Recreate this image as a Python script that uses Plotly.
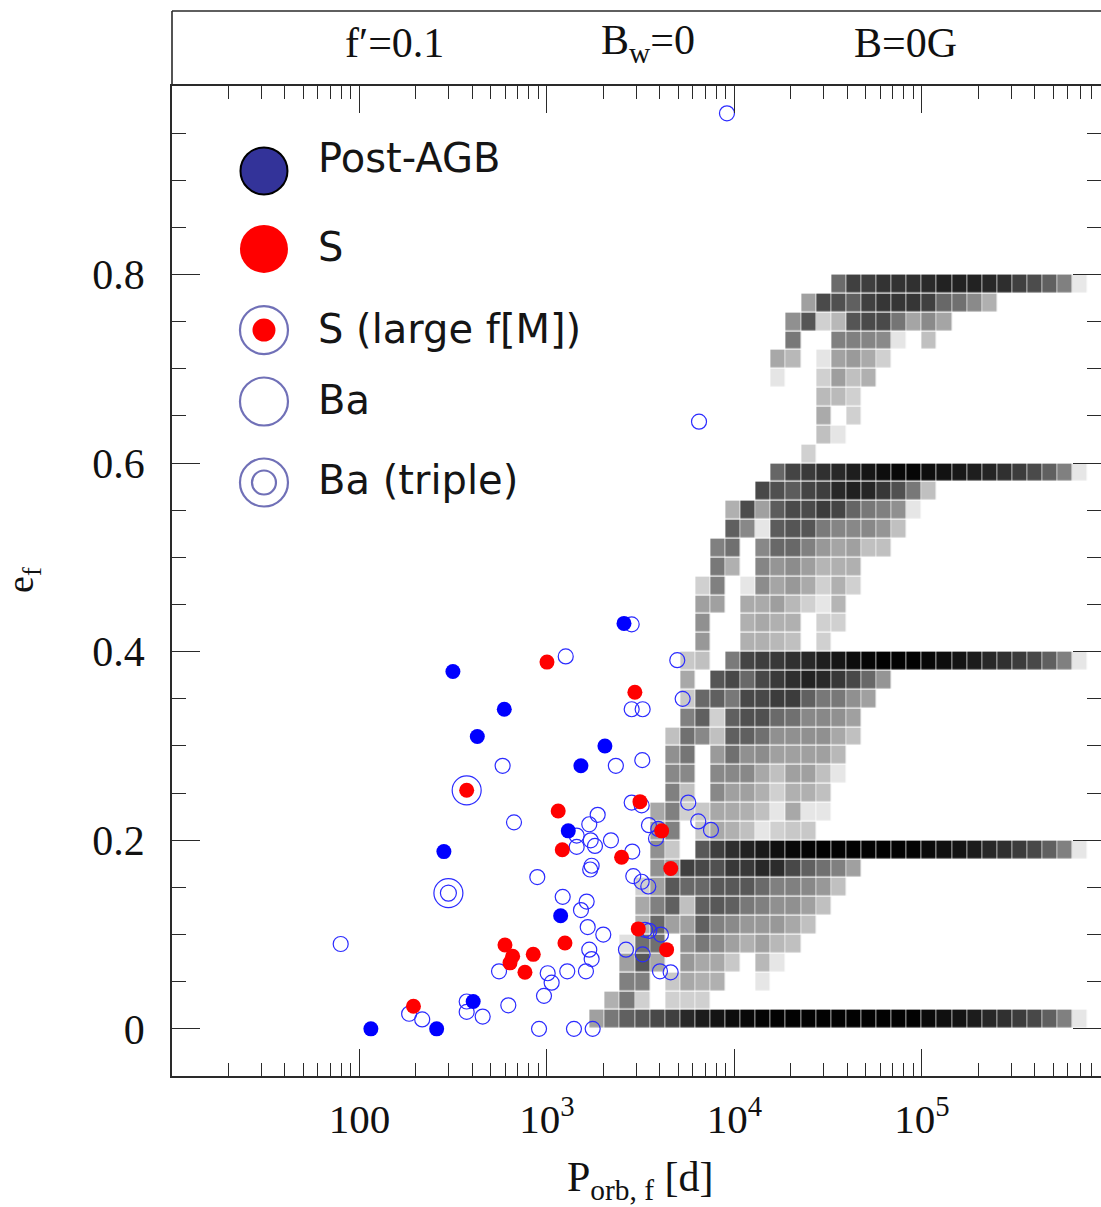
import plotly.graph_objects as go

# ---------------- data ----------------
# Post-AGB (filled blue)
POSTAGB_P = [115, 258, 404, 282, 315, 425, 592, 1517, 2037, 1299, 1183, 2575]
POSTAGB_E = [0.0, 0.0, 0.029, 0.188, 0.379, 0.310, 0.339, 0.279, 0.300, 0.210, 0.120, 0.430]

# S stars (filled red)
S_P = [194, 597, 656, 635, 845, 763, 1247, 1000, 1148, 1207, 2500, 2943, 3133, 4090, 4571, 3069, 4345]
S_E = [0.024, 0.089, 0.077, 0.070, 0.079, 0.060, 0.091, 0.389, 0.231, 0.190, 0.182, 0.357, 0.241,
       0.210, 0.170, 0.106, 0.084]

# S with large f(M)
SL_P = [373]
SL_E = [0.253]

# Ba triple
BAT_P = [298]
BAT_E = [0.144]

# Ba stars (open circles)
BA_P = [9120, 6470, 1259, 580, 667, 2330, 1864, 1681, 1440, 1711, 2194, 1803, 1440, 1731, 1700,
        79.4, 888, 1213, 1628, 1518, 1649, 1997, 1681, 1731, 1614, 1283, 1009, 1059, 964, 555,
        622, 373, 373, 454, 184, 216, 907, 1393, 1753, 2638, 3238, 2886, 3200, 3333, 3224,
        2830, 3200, 3499, 3924, 3815, 5670, 6412, 7494, 2851, 3470, 3513, 4055, 4005, 4568,
        2830, 4954, 5293, 2830, 3238]
BA_E = [0.971, 0.644, 0.395, 0.279, 0.219, 0.279, 0.227, 0.217, 0.205, 0.200, 0.200, 0.194, 0.193,
        0.173, 0.169, 0.090, 0.161, 0.140, 0.135, 0.126, 0.108, 0.100, 0.084, 0.074, 0.061, 0.061,
        0.059, 0.049, 0.035, 0.061, 0.025, 0.029, 0.018, 0.013, 0.016, 0.010, 0.0, 0.0, 0.0,
        0.084, 0.079, 0.162, 0.156, 0.105, 0.285, 0.240, 0.237, 0.216, 0.212, 0.202, 0.240,
        0.220, 0.211, 0.188, 0.151, 0.104, 0.100, 0.061, 0.060, 0.429, 0.391, 0.350, 0.339, 0.339]

# Simulated population grid: log10(P) bins and e bins
LOGP_BIN_START = 2.986
LOGP_BIN_WIDTH = 0.0805
N_LOGP_BINS = 36
E_BIN_WIDTH = 0.02
N_E_BINS = 40

# grey level (0=black, 255=white) per e-row: (first logP-bin index, values; '--' = empty)
GRID_ROWS = [
    (3, "a0 78 60 58 48 40 28 1c 14 0c 08 04 02 02 02 02 02 02 02 02 02 02 0a 10 14 1c 28 30 3c 48 60 80 e6"),
    (4, "b0 78 d0 -- d0 d0 d0"),
    (5, "80 80 -- c8 a8 b0 b0 -- -- e6"),
    (5, "a0 58 a8 -- 98 a8 a8 c8 -- b8 e6"),
    (5, "e0 70 70 -- 90 78 8a a0 b0 a0 b8 c0"),
    (6, "b0 68 a0 a0 60 80 8a 98 98 98 a8 c0"),
    (6, "a8 80 60 c0 60 58 60 78 80 90 90 a0 c0"),
    (6, "d0 a0 58 68 68 58 58 58 6a 80 80 88 98 c0"),
    (7, "90 a0 40 48 50 38 38 28 2c 48 60 70 80 a0"),
    (7, "90 c8 -- 58 3e 2e 22 1a 10 08 04 02 02 02 02 02 02 04 0a 10 14 1c 28 30 3c 48 60 80 e6"),
    (7, "a0 80 -- c8 a8 b0 c0 e6 d0 c8 c8"),
    (7, "a8 80 d0 c8 a8 aa b0 c0 e6 a8 e6 e6"),
    (8, "80 c0 -- 88 a0 a0 b0 d0 b0 b0 c0"),
    (8, "88 88 -- 88 88 88 a8 c0 a0 a0 c0 e6"),
    (8, "90 75 -- 9a 70 90 8c a0 a0 a0 a0 b8"),
    (8, "c0 70 88 c0 60 60 70 90 90 90 90 a8 c0"),
    (9, "80 60 d0 60 50 50 6a 70 88 88 90 a0"),
    (9, "c8 68 60 78 48 48 3c 3c 60 78 78 90 a0"),
    (9, "a8 -- 55 48 68 48 3a 2e 22 28 38 48 68 95"),
    (9, "c8 c0 -- 7a 44 3e 38 30 28 1e 16 0c 06 02 02 02 08 0e 14 1c 28 30 3c 48 60 80 e6"),
    (10, "98 -- -- b0 b0 b8 c0 -- d0"),
    (10, "90 -- -- b0 a8 b0 b0 -- d0 d0"),
    (10, "a0 a0 -- aa aa 9e b8 d0 e6 b5"),
    (10, "d0 80 -- e6 8c a5 98 aa d0 b0 d0"),
    (11, "78 b0 -- 85 95 8c 9e b5 b0 b0"),
    (11, "80 70 -- 88 68 68 80 98 a5 a0 c0 c0"),
    (12, "60 88 e6 5c 55 55 7a 85 88 88 95 c0"),
    (12, "b0 4c a0 5c 4a 4a 3c 44 65 78 80 90 e6"),
    (14, "48 50 5c 44 3e 28 20 26 38 50 78 c0"),
    (15, "66 44 3a 30 28 1e 16 0e 08 06 0e 12 18 1e 25 30 3c 4a 60 80 e6"),
    (17, "d0"),
    (18, "c0 e5"),
    (18, "aa -- d0"),
    (18, "ba ba d0"),
    (15, "e5 -- -- d0 9e c0 b0"),
    (15, "a8 b8 -- e5 a2 9a aa d0"),
    (16, "78 -- -- 80 80 85 8a e5 -- c0"),
    (16, "90 55 d0 b8 55 4a 4a 75 a5 8a a5"),
    (17, "a0 4a 50 60 40 36 36 36 40 68 70 8a b0"),
    (19, "6b 40 3e 33 33 30 2a 22 22 22 28 2e 40 4c 60 80 e8"),
]

# axis ticks
X_MAJOR = [10, 100, 1000, 10000, 100000]
X_LABELS = [" ", "100", "10<sup>3</sup>", "10<sup>4</sup>", "10<sup>5</sup>"]
Y_MAJOR = [0, 0.2, 0.4, 0.6, 0.8]
Y_LABELS = ["0", "0.2", "0.4", "0.6", "0.8"]

LEGEND_LABELS = ["Post-AGB", "S", "S (large f[M])", "Ba", "Ba (triple)"]

# ---------------- build ----------------
x_edges = [10 ** (LOGP_BIN_START + LOGP_BIN_WIDTH * j) for j in range(N_LOGP_BINS + 1)]
y_edges = [E_BIN_WIDTH * i for i in range(N_E_BINS + 1)]
z = []
for start, row in GRID_ROWS:
    vals = [None] * N_LOGP_BINS
    for k, tok in enumerate(row.split()):
        if tok != "--":
            vals[start + k] = int(tok, 16)
    z.append(vals)

x_minor = [m * 10 ** d for d in range(1, 6) for m in range(2, 10)]

AXC = "#2a2a2a"
SERIF = "Liberation Serif"
BLUE = "#0000ff"
RING = "#2b2bff"
RED = "#ff0000"
NAVY = "#333399"

fig = go.Figure()

fig.add_trace(go.Heatmap(
    x=x_edges, y=y_edges, z=z, zmin=0, zmax=255,
    colorscale=[[0, "rgb(0,0,0)"], [1, "rgb(255,255,255)"]],
    showscale=False, xgap=0.7, ygap=1.2, hoverinfo="skip",
))

fig.add_trace(go.Scatter(
    x=BA_P, y=BA_E, mode="markers",
    marker=dict(symbol="circle-open", size=15, color=RING, line=dict(width=1.2, color=RING)),
))
fig.add_trace(go.Scatter(
    x=BAT_P, y=BAT_E, mode="markers",
    marker=dict(symbol="circle-open", size=29, color=RING, line=dict(width=1.2, color=RING)),
))
fig.add_trace(go.Scatter(
    x=BAT_P, y=BAT_E, mode="markers",
    marker=dict(symbol="circle-open", size=16, color=RING, line=dict(width=1.2, color=RING)),
))
fig.add_trace(go.Scatter(
    x=SL_P, y=SL_E, mode="markers",
    marker=dict(symbol="circle-open", size=29, color=RING, line=dict(width=1.2, color=RING)),
))
fig.add_trace(go.Scatter(
    x=POSTAGB_P, y=POSTAGB_E, mode="markers",
    marker=dict(symbol="circle", size=15, color=BLUE, line=dict(width=0)),
))
fig.add_trace(go.Scatter(
    x=S_P + SL_P, y=S_E + SL_E, mode="markers",
    marker=dict(symbol="circle", size=15, color=RED, line=dict(width=0)),
))

# right-side ticks (separate axis, no line)
fig.add_trace(go.Scatter(x=[None], y=[None], xaxis="x", yaxis="y3", showlegend=False))

# legend drawn on an overlay axis in [0,1] coordinates
LX = 0.099
LY = [0.9142, 0.8354, 0.7535, 0.6813, 0.5995]
TY = [0.9273, 0.8374, 0.7545, 0.6828, 0.6020]
fig.add_trace(go.Scatter(x=[LX], y=[LY[0]], xaxis="x2", yaxis="y2", mode="markers",
                         marker=dict(size=47, color=NAVY, line=dict(width=2, color="black"))))
fig.add_trace(go.Scatter(x=[LX], y=[LY[1]], xaxis="x2", yaxis="y2", mode="markers",
                         marker=dict(size=48, color=RED, line=dict(width=0))))
fig.add_trace(go.Scatter(x=[LX, LX, LX, LX], y=[LY[2], LY[3], LY[4], LY[4]], xaxis="x2", yaxis="y2",
                         mode="markers",
                         marker=dict(symbol="circle-open", size=[48, 48, 48, 24], color=NAVY,
                                     line=dict(width=2.2, color=NAVY))))
fig.add_trace(go.Scatter(x=[LX], y=[LY[2]], xaxis="x2", yaxis="y2", mode="markers",
                         marker=dict(size=23, color=RED, line=dict(width=0))))

annotations = []
for lab, ty in zip(LEGEND_LABELS, TY):
    annotations.append(dict(x=0.155, y=ty, xref="x2", yref="y2", text=lab, showarrow=False,
                            xanchor="left", yanchor="middle",
                            font=dict(family="DejaVu Sans", size=40, color="#151515")))

# top panel texts
for txt, xp in [("f\u2032=0.1", 0.240), ("B<sub>w</sub>=0", 0.5124), ("B=0G", 0.790)]:
    annotations.append(dict(x=xp, y=0.970, xref="paper", yref="paper", text=txt, showarrow=False,
                            xanchor="center", yanchor="middle",
                            font=dict(family=SERIF, size=42, color="#111")))
# axis titles
annotations.append(dict(x=0.5038, y=-0.0975, xref="paper", yref="paper",
                        text="P<sub>orb, f</sub> [d]", showarrow=False,
                        xanchor="center", yanchor="middle",
                        font=dict(family=SERIF, size=42, color="#111")))
annotations.append(dict(x=-0.1605, y=0.4657, xref="paper", yref="paper",
                        text="e<sub>f</sub>", showarrow=False, textangle=-90,
                        xanchor="center", yanchor="middle",
                        font=dict(family=SERIF, size=38, color="#111")))

YTOP = 0.92958
shapes = [
    dict(type="line", xref="paper", yref="paper", x0=0, x1=1.01, y0=1, y1=1,
         line=dict(color=AXC, width=1.6)),
    dict(type="line", xref="paper", yref="paper", x0=0, x1=0, y0=YTOP, y1=1,
         line=dict(color=AXC, width=1.6)),
]

fig.update_layout(
    width=1101, height=1207,
    margin=dict(l=172, r=0, t=11, b=131),
    paper_bgcolor="white", plot_bgcolor="white",
    showlegend=False,
    annotations=annotations, shapes=shapes,
    xaxis=dict(
        type="log", range=[1, 5.955], domain=[0, 1],
        tickmode="array", tickvals=X_MAJOR, ticktext=X_LABELS,
        ticks="inside", ticklen=27, tickwidth=1.3, tickcolor=AXC,
        showline=True, linecolor=AXC, linewidth=1.6, mirror="ticks",
        showgrid=False, zeroline=False,
        tickfont=dict(family=SERIF, size=41, color="#111"),
        ticklabelstandoff=6,
        minor=dict(tickmode="array", tickvals=x_minor, ticks="inside", ticklen=13,
                   tickwidth=1.3, tickcolor=AXC, showgrid=False),
    ),
    yaxis=dict(
        range=[-0.05, 1.0], domain=[0, YTOP],
        tickmode="array", tickvals=Y_MAJOR, ticktext=Y_LABELS,
        ticks="inside", ticklen=28, tickwidth=1.3, tickcolor=AXC,
        showline=True, linecolor=AXC, linewidth=1.6, mirror=False,
        showgrid=False, zeroline=False,
        tickfont=dict(family=SERIF, size=42, color="#111"),
        ticklabelstandoff=17,
        minor=dict(dtick=0.05, tick0=0, ticks="inside", ticklen=14, tickwidth=1.3,
                   tickcolor=AXC, showgrid=False),
    ),
    yaxis3=dict(
        range=[-0.05, 1.0], domain=[0, YTOP], overlaying="y", side="right", anchor="x",
        tickmode="array", tickvals=Y_MAJOR, showticklabels=False,
        ticks="inside", ticklen=28, tickwidth=1.3, tickcolor=AXC,
        showline=False, showgrid=False, zeroline=False,
        minor=dict(dtick=0.05, tick0=0, ticks="inside", ticklen=14, tickwidth=1.3,
                   tickcolor=AXC, showgrid=False),
    ),
    xaxis2=dict(range=[0, 1], overlaying="x", visible=False, fixedrange=True),
    yaxis2=dict(range=[0, 1], domain=[0, YTOP], overlaying="y", visible=False, fixedrange=True,
                anchor="x2"),
)
fig.update_traces(hoverinfo="skip", selector=dict(type="scatter"))

fig.write_html("out.html", config={"displayModeBar": False},
               post_script="document.body.style.margin='0';document.body.style.overflow='hidden';")
